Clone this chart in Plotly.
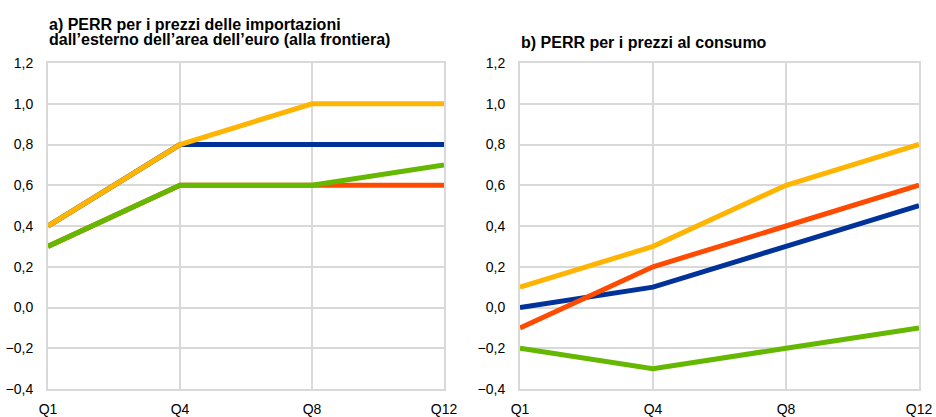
import plotly.graph_objects as go

quarters = ["Q1", "Q4", "Q8", "Q12"]

# Panel a) PERR for import prices
a_blue = [0.4, 0.8, 0.8, 0.8]
a_orange = [0.3, 0.6, 0.6, 0.6]
a_green = [0.3, 0.6, 0.6, 0.7]
a_yellow = [0.4, 0.8, 1.0, 1.0]

# Panel b) PERR for consumer prices
b_blue = [0.0, 0.1, 0.3, 0.5]
b_orange = [-0.1, 0.2, 0.4, 0.6]
b_green = [-0.2, -0.3, -0.2, -0.1]
b_yellow = [0.1, 0.3, 0.6, 0.8]

title_a1 = "a) PERR per i prezzi delle importazioni"
title_a2 = "dall\u2019esterno dell\u2019area dell\u2019euro (alla frontiera)"
title_b = "b) PERR per i prezzi al consumo"

colors = {"blue": "#003299", "orange": "#FF4B00", "green": "#65B800", "yellow": "#FFB400"}

fig = go.Figure()

series_a = [("blue", a_blue), ("orange", a_orange), ("green", a_green), ("yellow", a_yellow)]
series_b = [("blue", b_blue), ("orange", b_orange), ("green", b_green), ("yellow", b_yellow)]

for name, vals in series_a:
    fig.add_trace(go.Scatter(x=quarters, y=vals, mode="lines", xaxis="x", yaxis="y",
                             line=dict(color=colors[name], width=5), showlegend=False, cliponaxis=False))
for name, vals in series_b:
    fig.add_trace(go.Scatter(x=quarters, y=vals, mode="lines", xaxis="x2", yaxis="y2",
                             line=dict(color=colors[name], width=5), showlegend=False, cliponaxis=False))

W, H = 936, 417
def px(x):
    return x / W
def py(y):
    return 1 - y / H

grid = "#D9D9D9"
font = "Liberation Sans, Arial, sans-serif"

xcommon = dict(type="category", range=[0, 3], showgrid=True, gridcolor=grid, gridwidth=2,
               showline=True, linecolor=grid, linewidth=2, mirror=True, ticks="", automargin=False,
               tickfont=dict(size=14, color="#000000", family=font), ticklabelstandoff=6)
ycommon = dict(range=[-0.4, 1.2], dtick=0.2, tick0=-0.4, tickformat=".1f", showgrid=True,
               gridcolor=grid, gridwidth=2, zeroline=False, showline=True, linecolor=grid,
               linewidth=2, mirror=True, ticks="", automargin=False,
               tickfont=dict(size=14, color="#000000", family=font), ticklabelstandoff=10)

fig.update_layout(
    width=W, height=H, margin=dict(l=0, r=0, t=0, b=0),
    paper_bgcolor="white", plot_bgcolor="white", separators=",.",
    font=dict(family=font, color="#000000"),
    xaxis=dict(domain=[px(48), px(444)], anchor="y", **xcommon),
    yaxis=dict(domain=[py(389), py(63)], anchor="x", **ycommon),
    xaxis2=dict(domain=[px(520), px(919)], anchor="y2", **xcommon),
    yaxis2=dict(domain=[py(389), py(63)], anchor="x2", **ycommon),
    annotations=[
        dict(text="<b>" + title_a1 + "</b>", x=px(47), y=py(35), xref="paper", yref="paper",
             xanchor="left", yanchor="bottom", showarrow=False, font=dict(size=16, family=font)),
        dict(text="<b>" + title_a2 + "</b>", x=px(47), y=py(50), xref="paper", yref="paper",
             xanchor="left", yanchor="bottom", showarrow=False, font=dict(size=16, family=font)),
        dict(text="<b>" + title_b + "</b>", x=px(519), y=py(53), xref="paper", yref="paper",
             xanchor="left", yanchor="bottom", showarrow=False, font=dict(size=16, family=font)),
    ],
)

# remove the page's default body margin so the figure fills the window exactly
fig.write_html("out.html", config={"displayModeBar": False},
               post_script="document.body.style.margin='0px';")
